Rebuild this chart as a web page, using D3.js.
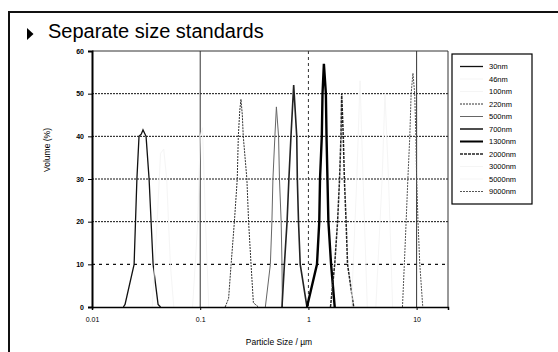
<!DOCTYPE html>
<html><head><meta charset="utf-8">
<script src="https://cdn.jsdelivr.net/npm/d3@7"></script>
<style>body{margin:0;background:#fff}svg{display:block}</style>
</head><body>
<svg id="c" width="558" height="352"></svg>
<script>
const seriesNames = ["30nm","46nm","100nm","220nm","500nm","700nm","1300nm","2000nm","3000nm","5000nm","9000nm"];
const s30 = [[0.0195,0],[0.0202,0.6],[0.0245,10],[0.026,30],[0.0272,40],[0.0285,40.5],[0.0296,41.5],[0.0316,40],[0.0337,30],[0.0367,10],[0.0408,0.6],[0.043,0]];
const s46 = [[0.036,0],[0.040,20],[0.043,36],[0.046,37],[0.049,30],[0.053,10],[0.057,0]];
const s100 = [[0.085,0],[0.095,20],[0.1,40],[0.105,42],[0.112,20],[0.12,0]];
const s220 = [[0.17,0],[0.183,2],[0.193,10],[0.207,20],[0.22,30],[0.225,40],[0.232,46],[0.238,48.7],[0.245,45],[0.25,40],[0.27,30],[0.28,20],[0.295,10],[0.31,1],[0.345,0]];
const s500 = [[0.40,0],[0.445,10],[0.46,20],[0.47,30],[0.49,40],[0.506,46.9],[0.53,40],[0.54,30],[0.56,20],[0.57,10],[0.575,0]];
const s700 = [[0.57,0],[0.60,10],[0.635,20],[0.66,30],[0.69,40],[0.731,52],[0.78,40],[0.79,30],[0.81,20],[0.84,10],[0.97,0]];
const s1300 = [[0.97,0],[1.2,10],[1.26,20],[1.28,30],[1.33,40],[1.35,50],[1.39,57],[1.45,50],[1.47,40],[1.5,30],[1.53,20],[1.62,10],[1.75,0]];
const s2000 = [[1.6,0],[1.75,10],[1.86,20],[1.94,30],[2.0,40],[2.03,50],[2.1,40],[2.15,30],[2.23,20],[2.3,10],[2.62,0]];
const s3000 = [[2.5,0],[2.8,30],[3.0,53],[3.2,30],[3.5,0]];
const s5000 = [[4.2,0],[4.8,30],[5.1,50],[5.5,30],[6.0,0]];
const s9000 = [[7.4,0],[7.7,10],[8.0,20],[8.3,30],[8.65,40],[8.9,50],[9.25,54.8],[9.6,50],[9.85,40],[10.0,30],[10.3,20],[10.7,10],[11.4,0]];
const seriesData = [s30,s46,s100,s220,s500,s700,s1300,s2000,s3000,s5000,s9000];
const yTicks = [0,10,20,30,40,50,60];
const xTicks = [0.01,0.1,1,10];
const xTickLabels = ["0.01","0.1","1","10"];

const styles = [
  {c:"#111",w:1.3,d:null},
  {c:"#f5f5f5",w:1,d:null},
  {c:"#f5f5f5",w:1,d:null},
  {c:"#333",w:1,d:"2,1"},
  {c:"#666",w:1,d:null},
  {c:"#222",w:1.6,d:null},
  {c:"#000",w:2.4,d:null},
  {c:"#222",w:1.5,d:"3,1"},
  {c:"#f5f5f5",w:1,d:null},
  {c:"#f5f5f5",w:1,d:null},
  {c:"#555",w:1,d:"2,1"}
];

const svg = d3.select("#c");
const font = "'Liberation Sans', Arial, sans-serif";
svg.append("path").attr("d","M9,352V12H558").attr("fill","none").attr("stroke","#111").attr("stroke-width",2);
svg.append("path").attr("d","M27,28L33.5,34L27,40Z").attr("fill","#000");
svg.append("text").attr("x",48).attr("y",37.5).attr("font-family",font).attr("font-size",20).text("Separate size standards");

const x = d3.scaleLog().domain([0.01,19.5]).range([92,448]);
const y = d3.scaleLinear().domain([0,60]).range([307,51]);

svg.append("g").selectAll("line").data(yTicks.filter(v=>v>0&&v<60)).join("line")
  .attr("x1",92).attr("x2",448).attr("y1",d=>y(d)).attr("y2",d=>y(d))
  .attr("stroke","#111").attr("stroke-width",d=>d===10?1.3:1)
  .attr("stroke-dasharray",d=>d===10?"3,4":"2,1");
svg.append("g").selectAll("line").data(xTicks.slice(1)).join("line")
  .attr("x1",d=>x(d)).attr("x2",d=>x(d)).attr("y1",51).attr("y2",307)
  .attr("stroke",d=>d===1?"#333":"#333").attr("stroke-width",1)
  .attr("stroke-dasharray",d=>d===1?"3,3":null);
svg.append("path").attr("d","M92,51H448V307").attr("fill","none").attr("stroke","#333").attr("stroke-width",1);

const line = d3.line().x(d=>x(d[0])).y(d=>y(d[1]));
svg.append("g").selectAll("path").data(seriesData).join("path")
  .attr("d",line).attr("fill","none")
  .attr("stroke",(d,i)=>styles[i].c).attr("stroke-width",(d,i)=>styles[i].w)
  .attr("stroke-dasharray",(d,i)=>styles[i].d);

const yAxis = svg.append("g").attr("transform","translate(92,0)")
  .call(d3.axisLeft(y).tickValues(yTicks).tickSize(4).tickFormat(d3.format("d")));
yAxis.select(".domain").attr("stroke","#000").attr("stroke-width",2);
yAxis.selectAll("text").attr("font-family",font).attr("font-size",7).attr("font-weight","bold").attr("dx",-1);
const xAxis = svg.append("g").attr("transform","translate(0,307)")
  .call(d3.axisBottom(x).tickValues(xTicks).tickSize(3).tickFormat((d,i)=>xTickLabels[i]));
xAxis.select(".domain").attr("stroke","#000").attr("stroke-width",1.5);
xAxis.selectAll("text").attr("font-family",font).attr("font-size",7).attr("dy","1.3em");

svg.append("text").attr("transform","translate(50,150) rotate(-90)").attr("text-anchor","middle")
  .attr("font-family",font).attr("font-size",8.5).text("Volume (%)");
svg.append("text").attr("x",279).attr("y",345).attr("text-anchor","middle")
  .attr("font-family",font).attr("font-size",8.5).text("Particle Size / µm");

const lg = svg.append("g");
lg.append("rect").attr("x",452).attr("y",54).attr("width",80).attr("height",150)
  .attr("fill","#fff").attr("stroke","#000").attr("stroke-width",1.2);
const rows = lg.selectAll("g").data(seriesNames).join("g")
  .attr("transform",(d,i)=>`translate(0,${66.5+i*12.5})`);
rows.append("line").attr("x1",460).attr("x2",483).attr("y1",0).attr("y2",0)
  .attr("stroke",(d,i)=>styles[i].c).attr("stroke-width",(d,i)=>Math.min(styles[i].w,2))
  .attr("stroke-dasharray",(d,i)=>styles[i].d);
rows.append("text").attr("x",489).attr("y",2.5).attr("font-family",font).attr("font-size",7.5).text(d=>d);
</script>
</body></html>
